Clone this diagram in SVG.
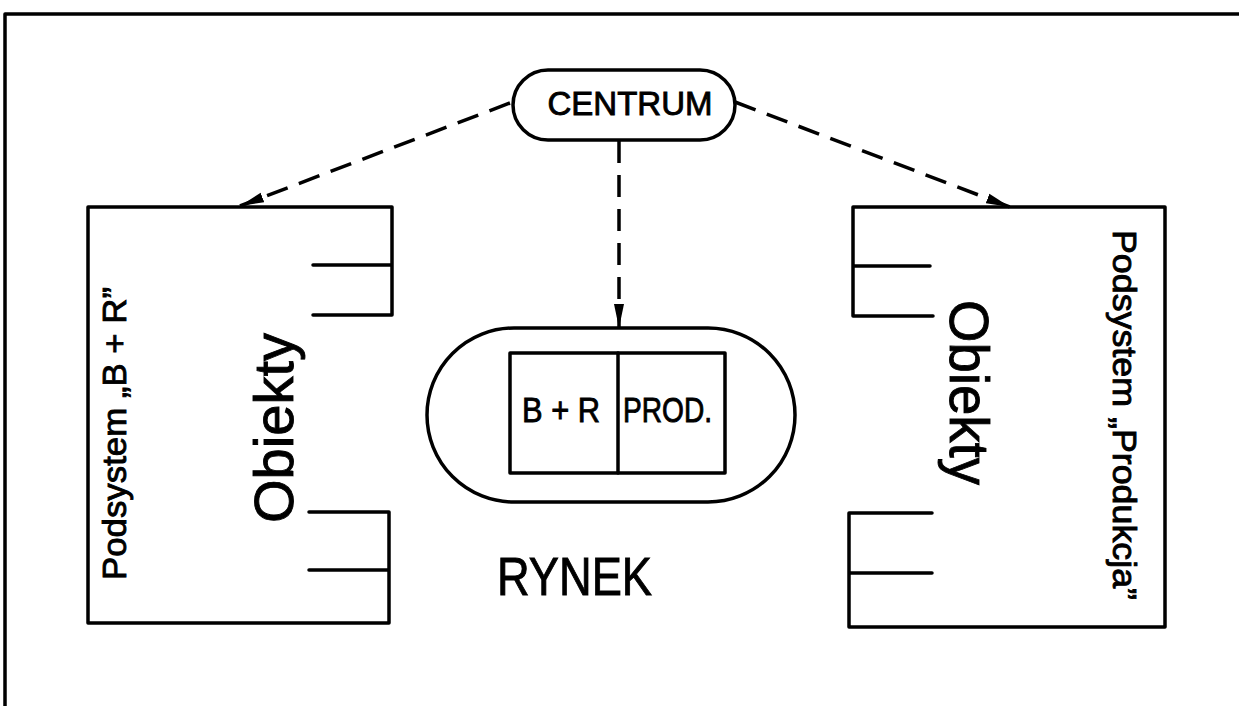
<svg xmlns="http://www.w3.org/2000/svg" width="1239" height="706" viewBox="0 0 1239 706">
<defs>
<style>
.ln{fill:none;stroke:#000;stroke-width:3.5;stroke-linecap:round;stroke-linejoin:round}
.dash{fill:none;stroke:#000;stroke-width:3.5;stroke-dasharray:22 12}
.t{font-family:"Liberation Sans",Arial,sans-serif;fill:#000;stroke:#000;stroke-width:0.9}
</style>
<marker id="ah" viewBox="0 0 24 12" refX="24" refY="6" markerWidth="24" markerHeight="12" markerUnits="userSpaceOnUse" orient="auto">
<path d="M0,1 L24,6 L0,11 Z" fill="#000"/>
</marker>
</defs>
<rect width="1239" height="706" fill="#fff"/>
<g id="frame">
<path class="ln" d="M5,706 L5,14 L1239,14" stroke-width="4"/>
</g>
<g id="centrum">
<rect class="ln" x="513" y="70" width="222" height="70" rx="35"/>
<text class="t" x="630" y="115" font-size="34" text-anchor="middle" textLength="165" lengthAdjust="spacingAndGlyphs">CENTRUM</text>
</g>
<g id="left-subsystem">
<path class="ln" d="M392,315 L392,207 L88,207 L88,623 L389,623 L389,512 L309,512 M389,570 L309,570 M392,265 L313,265 M392,315 L313,315"/>
<text class="t" transform="translate(126,580) rotate(-90)" font-size="34" textLength="293" lengthAdjust="spacingAndGlyphs">Podsystem „B + R”</text>
<text class="t" transform="translate(293,523) rotate(-90)" font-size="56" textLength="190" lengthAdjust="spacingAndGlyphs">Obiekty</text>
</g>
<g id="right-subsystem">
<path class="ln" d="M853,316 L853,207 L1165,207 L1165,627 L849,627 L849,513 L932,513 M849,573 L932,573 M853,266 L930,266 M853,316 L933,316"/>
<text class="t" transform="translate(1113,230) rotate(90)" font-size="34" textLength="370" lengthAdjust="spacingAndGlyphs">Podsystem „Produkcja”</text>
<text class="t" transform="translate(950,300) rotate(90)" font-size="56" textLength="185" lengthAdjust="spacingAndGlyphs">Obiekty</text>
</g>
<g id="rynek">
<rect class="ln" x="427" y="328" width="368" height="174" rx="87"/>
<rect class="ln" x="510" y="353" width="215" height="120"/>
<path class="ln" d="M618,353 L618,473"/>
<text class="t" x="522" y="422" font-size="35" textLength="78" lengthAdjust="spacingAndGlyphs">B + R</text>
<text class="t" x="623" y="422" font-size="35" textLength="89" lengthAdjust="spacingAndGlyphs">PROD.</text>
<text class="t" x="497" y="595" font-size="54" textLength="155" lengthAdjust="spacingAndGlyphs">RYNEK</text>
</g>
<g id="connectors">
<path class="dash" d="M510,103 L240,206" marker-end="url(#ah)"/>
<path class="dash" d="M735,102 L1010,207" marker-end="url(#ah)"/>
<path class="dash" d="M619,141 L619,328" stroke-dasharray="18 12" marker-end="url(#ah)"/>
</g>
</svg>
